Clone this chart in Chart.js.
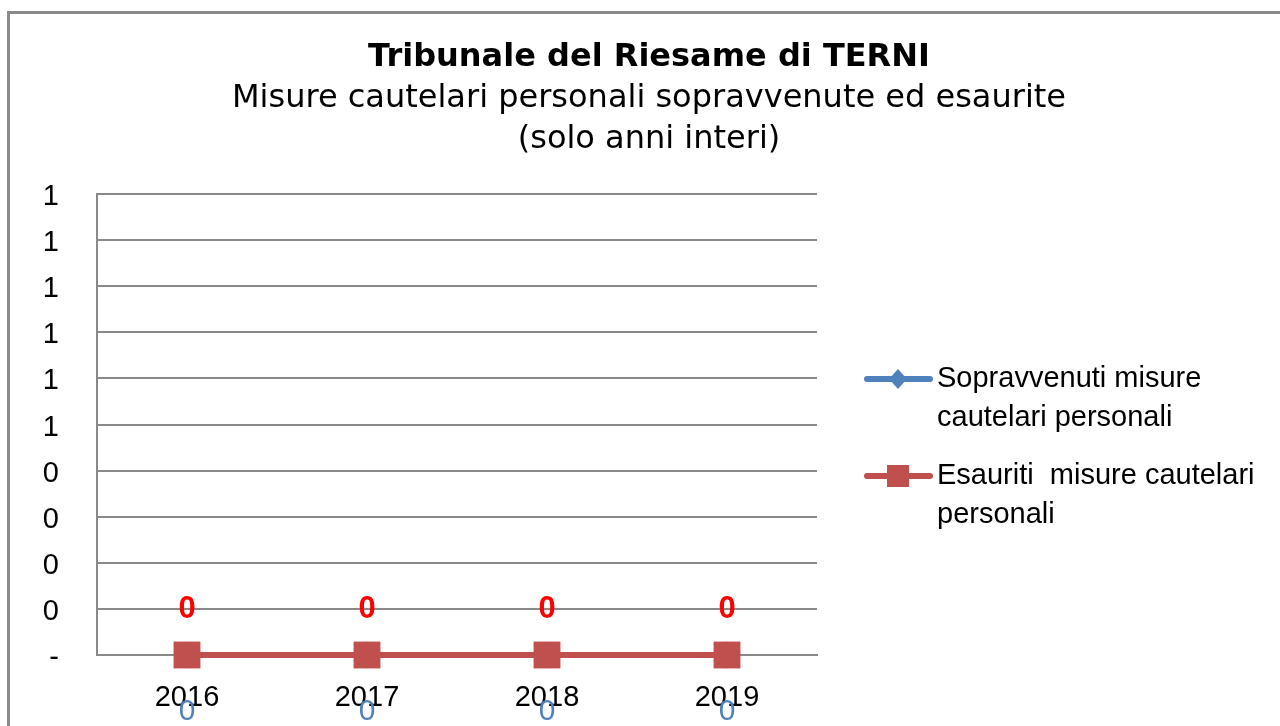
<!DOCTYPE html>
<html>
<head>
<meta charset="utf-8">
<title>Tribunale del Riesame di TERNI</title>
<script src="https://cdn.jsdelivr.net/npm/chart.js@4.4.1/dist/chart.umd.min.js"></script>
<style>
    body { margin: 0; background: #fff; overflow: hidden; }
    #frame {
        position: absolute; left: 7px; top: 11px;
        width: 1400px; height: 900px;
        border: 3px solid #8a8a8a;
    }
    #myChart { position: absolute; left: 0; top: 0; }
</style>
</head>
<body>
<div id="frame"></div>
<canvas id="myChart" width="1280" height="726"></canvas>
<script>
// chart data
const years = ['2016', '2017', '2018', '2019'];
const sopravvenuti = [0, 0, 0, 0];
const esauriti = [0, 0, 0, 0];
const yTickLabels = ['-', '0', '0', '0', '0', '1', '1', '1', '1', '1', '1']; // from 0 to 1, step 0.1

const titleLines = [
    'Tribunale del Riesame di TERNI',
    'Misure cautelari personali sopravvenute ed esaurite',
    '(solo anni interi)'
];
const legendLabels = [
    ['Sopravvenuti misure', 'cautelari personali'],
    ['Esauriti  misure cautelari', 'personali']
];

const BLUE = '#4F81BD';
const RED = '#C0504D';
const GRID = '#898989';

// titles drawn on top of the canvas
const titlePlugin = {
    id: 'titles',
    afterDraw(chart) {
        const ctx = chart.ctx;
        ctx.save();
        ctx.fillStyle = '#000';
        ctx.textAlign = 'center';
        ctx.textBaseline = 'middle';
        ctx.font = 'bold 32px "DejaVu Sans"';
        ctx.fillText(titleLines[0], 649, 58);
        ctx.font = '32px "DejaVu Sans"';
        ctx.fillText(titleLines[1], 649, 99);
        ctx.fillText(titleLines[2], 649, 140);
        ctx.restore();
    }
};

// value labels like the Excel data labels
const valueLabels = {
    id: 'valueLabels',
    afterDatasetsDraw(chart) {
        const ctx = chart.ctx;
        chart.data.datasets.forEach((ds, i) => {
            const meta = chart.getDatasetMeta(i);
            ctx.save();
            ctx.fillStyle = ds.labelColor;
            ctx.font = ds.labelFont;
            ctx.textAlign = 'center';
            ctx.textBaseline = 'middle';
            meta.data.forEach((pt, j) => {
                ctx.fillText(String(ds.data[j]), pt.x, pt.y + ds.labelOffset);
            });
            ctx.restore();
        });
    }
};

// legend on the right, with wrapped text
const sideLegend = {
    id: 'sideLegend',
    afterDraw(chart) {
        const ctx = chart.ctx;
        const rows = [379, 476];
        chart.data.datasets.forEach((ds, i) => {
            const y = rows[i];
            ctx.save();
            ctx.strokeStyle = ds.borderColor;
            ctx.lineWidth = 6;
            ctx.lineCap = 'round';
            ctx.beginPath();
            ctx.moveTo(867, y);
            ctx.lineTo(930, y);
            ctx.stroke();
            ctx.fillStyle = ds.pointBackgroundColor;
            if (ds.pointStyle === 'rectRot') {
                ctx.beginPath();
                ctx.moveTo(898, y - 10);
                ctx.lineTo(907, y);
                ctx.lineTo(898, y + 10);
                ctx.lineTo(889, y);
                ctx.closePath();
                ctx.fill();
            } else {
                ctx.fillRect(887, y - 11, 22, 22);
            }
            ctx.fillStyle = '#000';
            ctx.font = '29px "Liberation Sans"';
            ctx.textAlign = 'left';
            ctx.textBaseline = 'middle';
            legendLabels[i].forEach((line, k) => {
                ctx.fillText(line, 937, y + k * 39);
            });
            ctx.restore();
        });
    }
};

const ctx = document.getElementById('myChart').getContext('2d');
const chart = new Chart(ctx, {
    type: 'line',
    data: {
        labels: years,
        datasets: [
            {
                label: 'Sopravvenuti misure cautelari personali',
                data: sopravvenuti,
                borderColor: BLUE,
                backgroundColor: BLUE,
                pointBackgroundColor: BLUE,
                pointBorderColor: BLUE,
                borderWidth: 5,
                pointStyle: 'rectRot',
                pointRadius: 10,
                order: 1,
                labelColor: BLUE,
                labelFont: '30px "Liberation Sans"',
                labelOffset: 57
            },
            {
                label: 'Esauriti  misure cautelari personali',
                data: esauriti,
                borderColor: RED,
                backgroundColor: RED,
                pointBackgroundColor: RED,
                pointBorderColor: RED,
                borderWidth: 6,
                pointStyle: 'rect',
                pointRadius: 19,
                pointBorderWidth: 0,
                order: 0,
                labelColor: '#FF0000',
                labelFont: 'bold 31px "Liberation Sans"',
                labelOffset: -46
            }
        ]
    },
    options: {
        responsive: false,
        animation: false,
        devicePixelRatio: 1,
        clip: false,
        layout: {
            padding: { top: 194, right: 463, left: 0, bottom: 0 }
        },
        plugins: {
            legend: { display: false },
            title: { display: false },
            tooltip: { enabled: false }
        },
        scales: {
            x: {
                offset: true,
                grid: { display: false, drawTicks: false },
                border: { display: true, color: GRID, width: 2 },
                ticks: {
                    color: '#000',
                    padding: 26,
                    font: { family: 'Liberation Sans', size: 29 },
                    maxRotation: 0
                },
                afterFit: scale => { scale.height = 71; }
            },
            y: {
                min: 0,
                max: 1,
                grid: { color: GRID, lineWidth: 2, drawTicks: false },
                border: { display: true, color: GRID, width: 2 },
                ticks: {
                    stepSize: 0.1,
                    color: '#000',
                    padding: 38,
                    labelOffset: 3,
                    font: { family: 'Liberation Sans', size: 29 },
                    callback: (value, index) => yTickLabels[index]
                },
                afterFit: scale => { scale.width = 97; }
            }
        }
    },
    plugins: [titlePlugin, valueLabels, sideLegend]
});
</script>
</body>
</html>
